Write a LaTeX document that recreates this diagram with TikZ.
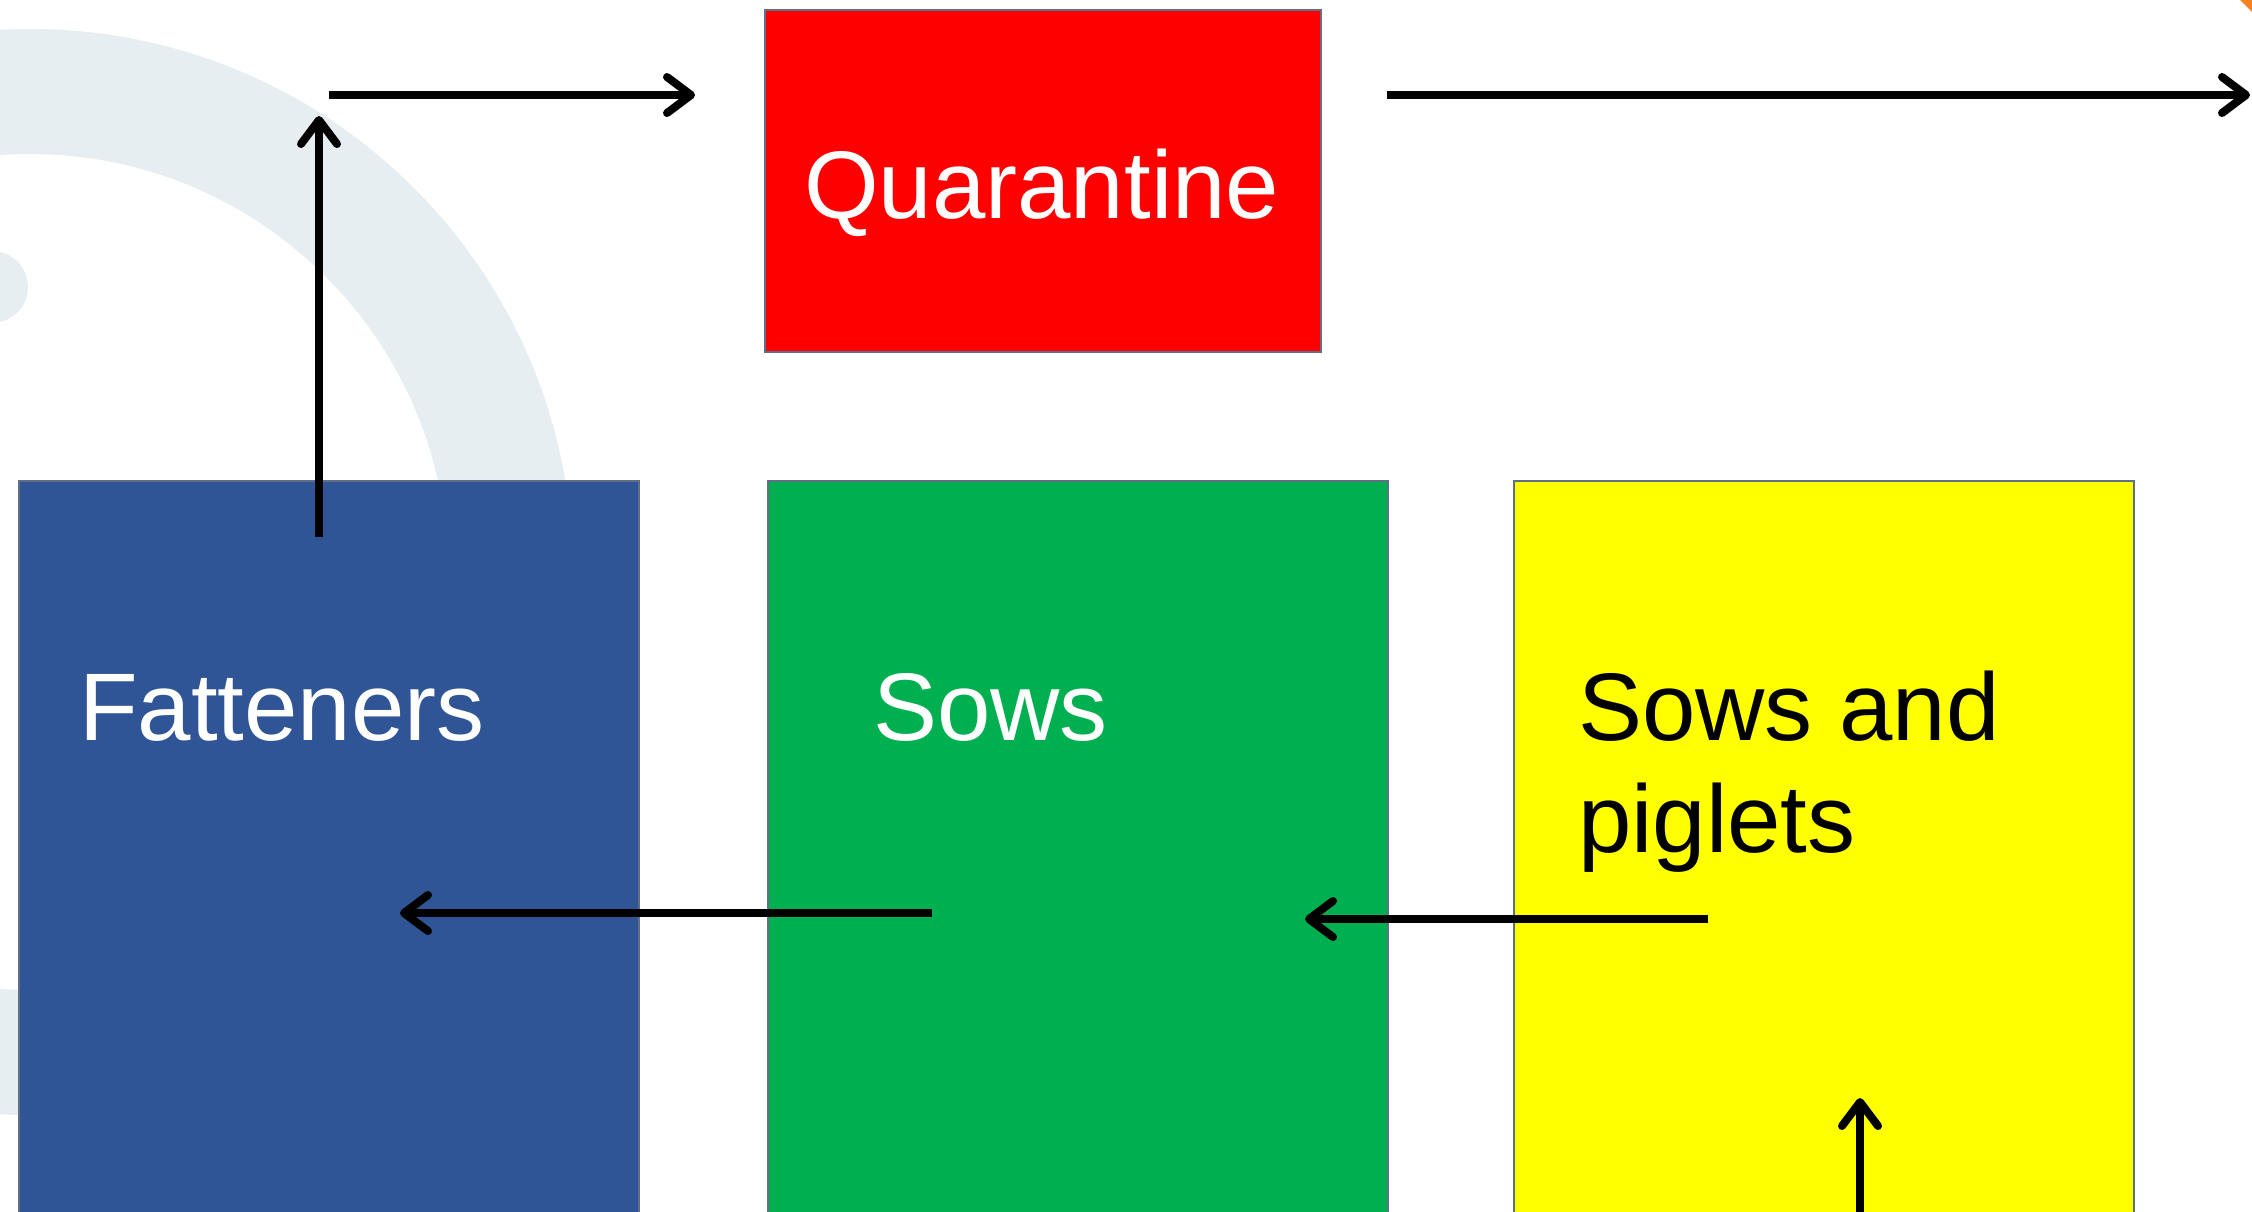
\documentclass[tikz,border=0pt]{standalone}
\usepackage{fontspec}
\setmainfont{Liberation Sans}
\usetikzlibrary{arrows.meta}
\definecolor{qred}{HTML}{FF0000}
\definecolor{fblue}{HTML}{2F5597}
\definecolor{sgreen}{HTML}{00B050}
\definecolor{pyellow}{HTML}{FFFF00}
\definecolor{bordergray}{HTML}{5F6F86}
\definecolor{wmark}{HTML}{E7EEF2}
\definecolor{corner}{HTML}{F58220}
\tikzset{
  box/.style={draw=bordergray, line width=2pt, rectangle, inner sep=0pt, outer sep=0pt},
  lbl/.style={anchor=base west, inner sep=0pt, font=\fontsize{96}{112}\selectfont, align=left},
  flow/.style={line width=8pt, -{Straight Barb[length=24pt,width=36pt,line cap=round,line join=round]}},
}
\begin{document}
\begin{tikzpicture}[x=1pt,y=-1pt]
\useasboundingbox (0,0) rectangle (2252,1211);
\clip (0,0) rectangle (2252,1211);
\fill[white] (0,0) rectangle (2252,1211);
% faint watermark
\fill[wmark, even odd rule] (30,572) circle (543) (30,572) circle (418);
\fill[wmark] (-8,287) circle (36);
\fill[corner] (2240,0) -- (2252,0) -- (2252,12) -- cycle;
% boxes
\node[box, fill=qred, minimum width=556pt, minimum height=342pt, anchor=north west] (quar) at (765,10) {};
\node[box, fill=fblue, minimum width=620pt, minimum height=760pt, anchor=north west] (fat) at (19,481) {};
\node[box, fill=sgreen, minimum width=620pt, minimum height=760pt, anchor=north west] (sows) at (768,481) {};
\node[box, fill=pyellow, minimum width=620pt, minimum height=760pt, anchor=north west] (sap) at (1514,481) {};
% labels
\node[lbl, text=white] (tq) at (804,218) {Quarantine};
\node[lbl, text=white] (tf) at (79,740) {Fatteners};
\node[lbl, text=white] (ts) at (873,740) {Sows};
\node[lbl, text=black] (tp) at (1578,852) {Sows and\\piglets};
% connector end points
\coordinate (a1s) at (319,537);
\coordinate (a1e) at (319,116);
\coordinate (a2s) at (329,95);
\coordinate (a2e) at (695,95);
\coordinate (a3s) at (1387,95);
\coordinate (a3e) at (2250,95);
\coordinate (a4s) at (932,913);
\coordinate (a4e) at (400,913);
\coordinate (a5s) at (1708,919);
\coordinate (a5e) at (1305,919);
\coordinate (a6s) at (1860,1215);
\coordinate (a6e) at (1860,1098);
\draw[flow] (a1s) -- (a1e);
\draw[flow] (a2s) -- (a2e);
\draw[flow] (a3s) -- (a3e);
\draw[flow] (a4s) -- (a4e);
\draw[flow] (a5s) -- (a5e);
\draw[flow] (a6s) -- (a6e);
\end{tikzpicture}
\end{document}
